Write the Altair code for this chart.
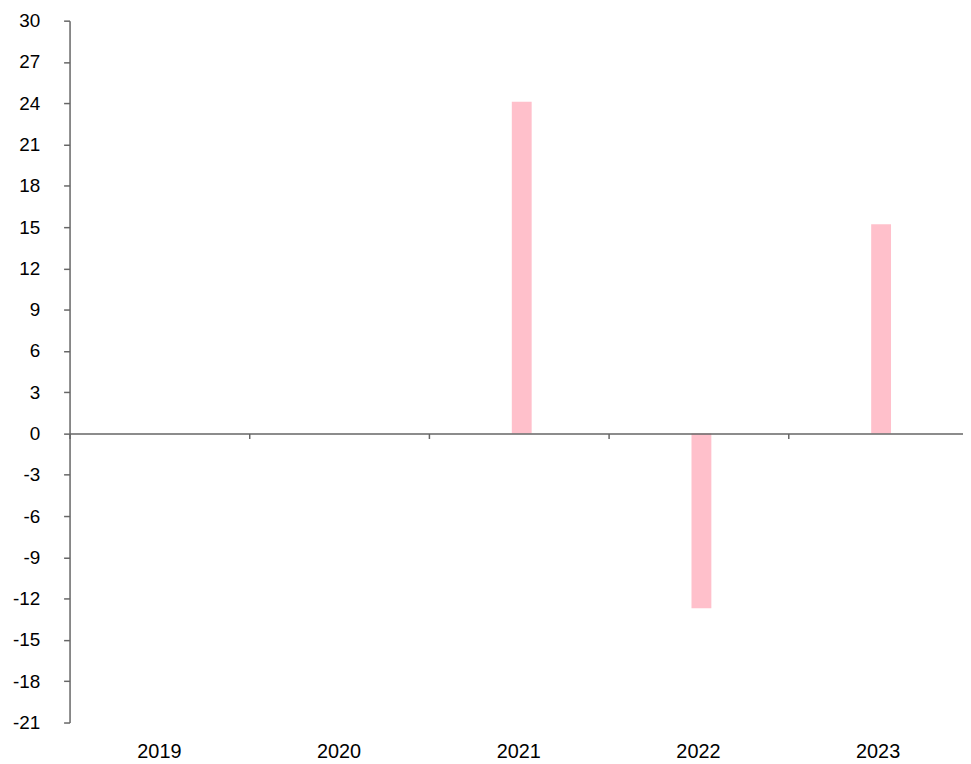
import altair as alt
import pandas as pd

years = ["2019", "2020", "2021", "2022", "2023"]
values = [None, None, 24.1, -12.7, 15.2]
y_ticks = list(range(-21, 31, 3))

df = pd.DataFrame({"year": years, "value": values})

W, H = 905, 707
Y_MIN, Y_MAX = -21, 30
zero_offset = -H * (0 - Y_MIN) / (Y_MAX - Y_MIN)

FONT = "Liberation Sans"
AXIS_COLOR = "#666666"
FS = 20

xscale = alt.Scale(domain=years, paddingInner=0, paddingOuter=0)
yscale = alt.Scale(domain=[Y_MIN, Y_MAX], nice=False, zero=False)

y_axis = alt.Axis(
    values=y_ticks,
    title=None,
    grid=False,
    domainColor=AXIS_COLOR,
    domainWidth=1.5,
    tickColor=AXIS_COLOR,
    tickWidth=1.5,
    tickSize=6,
    labelPadding=24,
    labelFontSize=19,
    labelFont=FONT,
    labelColor="#000000",
    labelExpr="replace(datum.label, '\u2212', '-')",
)

base = alt.Chart(df)

bars = base.mark_bar(color="#FFC0CB", size=20, xOffset=3).encode(
    x=alt.X(
        "year:N",
        scale=xscale,
        axis=alt.Axis(
            orient="bottom",
            title=None,
            domain=False,
            ticks=False,
            tickSize=0,
            labelPadding=19,
            labelFontSize=FS,
            labelFont=FONT,
            labelColor="#000000",
            labelAngle=0,
        ),
    ),
    y=alt.Y("value:Q", scale=yscale, axis=y_axis),
)

zero_axis = base.mark_bar(opacity=0, size=1).encode(
    x=alt.X(
        "year:N",
        scale=xscale,
        axis=alt.Axis(
            orient="bottom",
            offset=zero_offset,
            labels=False,
            title=None,
            bandPosition=0,
            domainColor=AXIS_COLOR,
            domainWidth=1.5,
            tickColor=AXIS_COLOR,
            tickWidth=1.5,
            tickSize=5,
            zindex=1,
        ),
    ),
    y=alt.Y("value:Q", scale=yscale, axis=y_axis),
)

chart = (
    alt.layer(bars, zero_axis)
    .resolve_axis(x="independent")
    .properties(
        width=W,
        height=H,
        autosize=alt.AutoSizeParams(type="none"),
        padding={"left": 62, "top": 10, "right": -5, "bottom": 37},
    )
    .configure_view(stroke=None)
)

chart.save("out.html", embed_options={"renderer": "svg", "actions": False})
